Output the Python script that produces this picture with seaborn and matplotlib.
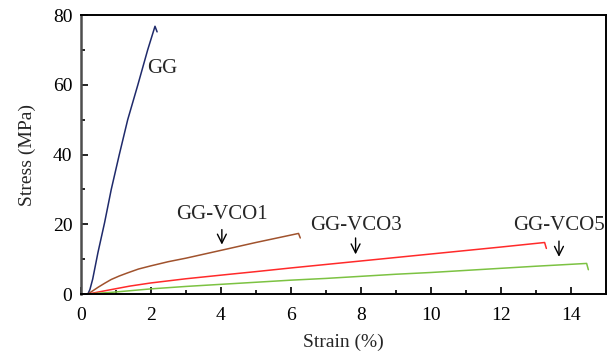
import matplotlib
matplotlib.use("Agg")
import matplotlib.pyplot as plt
import seaborn as sns
import pandas as pd
from matplotlib.ticker import MultipleLocator

# Data
gg_x = [0.2, 0.26, 0.34, 0.49, 0.68, 0.87, 1.10, 1.34, 1.63, 1.91, 2.12, 2.18]
gg_y = [0.0, 1.3, 4.3, 11.9, 20.5, 30.0, 40.0, 50.0, 60.0, 70.0, 76.8, 75.2]

vco1_x = [0.2, 0.35, 0.5, 0.68, 0.87, 1.1, 1.34, 1.65, 2.0, 2.5, 3.0, 4.16, 5.0, 6.22, 6.27]
vco1_y = [0.0, 1.0, 2.0, 3.1, 4.2, 5.2, 6.1, 7.2, 8.1, 9.3, 10.3, 12.9, 14.8, 17.4, 16.1]

vco3_x = [0.2, 0.5, 0.87, 1.4, 2.0, 3.0, 4.16, 5.0, 6.0, 7.0, 8.0, 9.0, 10.0, 11.0, 12.0, 13.25, 13.3]
vco3_y = [0.0, 0.6, 1.3, 2.3, 3.2, 4.4, 5.6, 6.45, 7.5, 8.5, 9.5, 10.5, 11.5, 12.5, 13.5, 14.8, 13.1]

vco5_x = [0.2, 0.5, 0.87, 2.0, 3.0, 4.16, 5.0, 6.0, 7.0, 8.0, 9.0, 10.0, 11.0, 12.0, 13.0, 14.0, 14.45, 14.5]
vco5_y = [0.0, 0.25, 0.5, 1.5, 2.2, 2.9, 3.4, 4.0, 4.5, 5.1, 5.7, 6.2, 6.8, 7.4, 8.0, 8.55, 8.8, 7.0]

series = ["GG", "GG-VCO1", "GG-VCO3", "GG-VCO5"]
colors = ["#1f2a6b", "#a0522d", "#ff2a2a", "#7cc242"]

frames = []
for name, xs, ys in zip(series, [gg_x, vco1_x, vco3_x, vco5_x], [gg_y, vco1_y, vco3_y, vco5_y]):
    frames.append(pd.DataFrame({"Strain": xs, "Stress": ys, "Sample": name}))
df = pd.concat(frames, ignore_index=True)

sns.set_theme(style="ticks")
plt.rcParams["font.family"] = ["Liberation Serif", "DejaVu Serif"]

fig = plt.figure(figsize=(6.12, 3.6), dpi=100)
ax = fig.add_axes([0.132, 0.183, 0.858, 0.775])

sns.lineplot(data=df, x="Strain", y="Stress", hue="Sample", palette=dict(zip(series, colors)),
             estimator=None, sort=False, linewidth=1.1, legend=False, ax=ax)

ax.set_xlim(0, 15)
ax.set_ylim(0, 80)
ax.xaxis.set_major_locator(MultipleLocator(2))
ax.xaxis.set_minor_locator(MultipleLocator(1))
ax.yaxis.set_major_locator(MultipleLocator(20))
ax.yaxis.set_minor_locator(MultipleLocator(10))
ax.tick_params(which="both", direction="in", colors="black", labelsize=14, width=1.2)
ax.tick_params(axis="x", which="major", length=5, pad=9)
ax.tick_params(axis="y", which="major", length=5, pad=6)
ax.tick_params(which="minor", length=3)
for s in ax.spines.values():
    s.set_visible(True)
    s.set_linewidth(1.4)
    s.set_color("black")
ax.spines["left"].set_color("#4d4d4d")
ax.spines["left"].set_linewidth(1.8)
ax.set_xlabel("Strain (%)", fontsize=14, labelpad=7)
ax.set_ylabel("Stress (MPa)", fontsize=14, labelpad=12)

# annotations
ax.text(1.9, 64.8, "GG", fontsize=15, va="center", ha="left")
ann = [("GG-VCO1", 4.03, 22.9, 19.3, 13.4),
       ("GG-VCO3", 7.85, 19.8, 16.9, 10.6),
       ("GG-VCO5", 13.66, 19.8, 16.0, 9.9)]
for label, xa, yt, y0, y1 in ann:
    ax.text(xa, yt, label, fontsize=15, ha="center", va="center")
    ax.annotate("", xy=(xa, y1), xytext=(xa, y0),
                arrowprops=dict(arrowstyle="->", color="black", lw=1.0, mutation_scale=16))

fig.savefig("out.png", dpi=100)
